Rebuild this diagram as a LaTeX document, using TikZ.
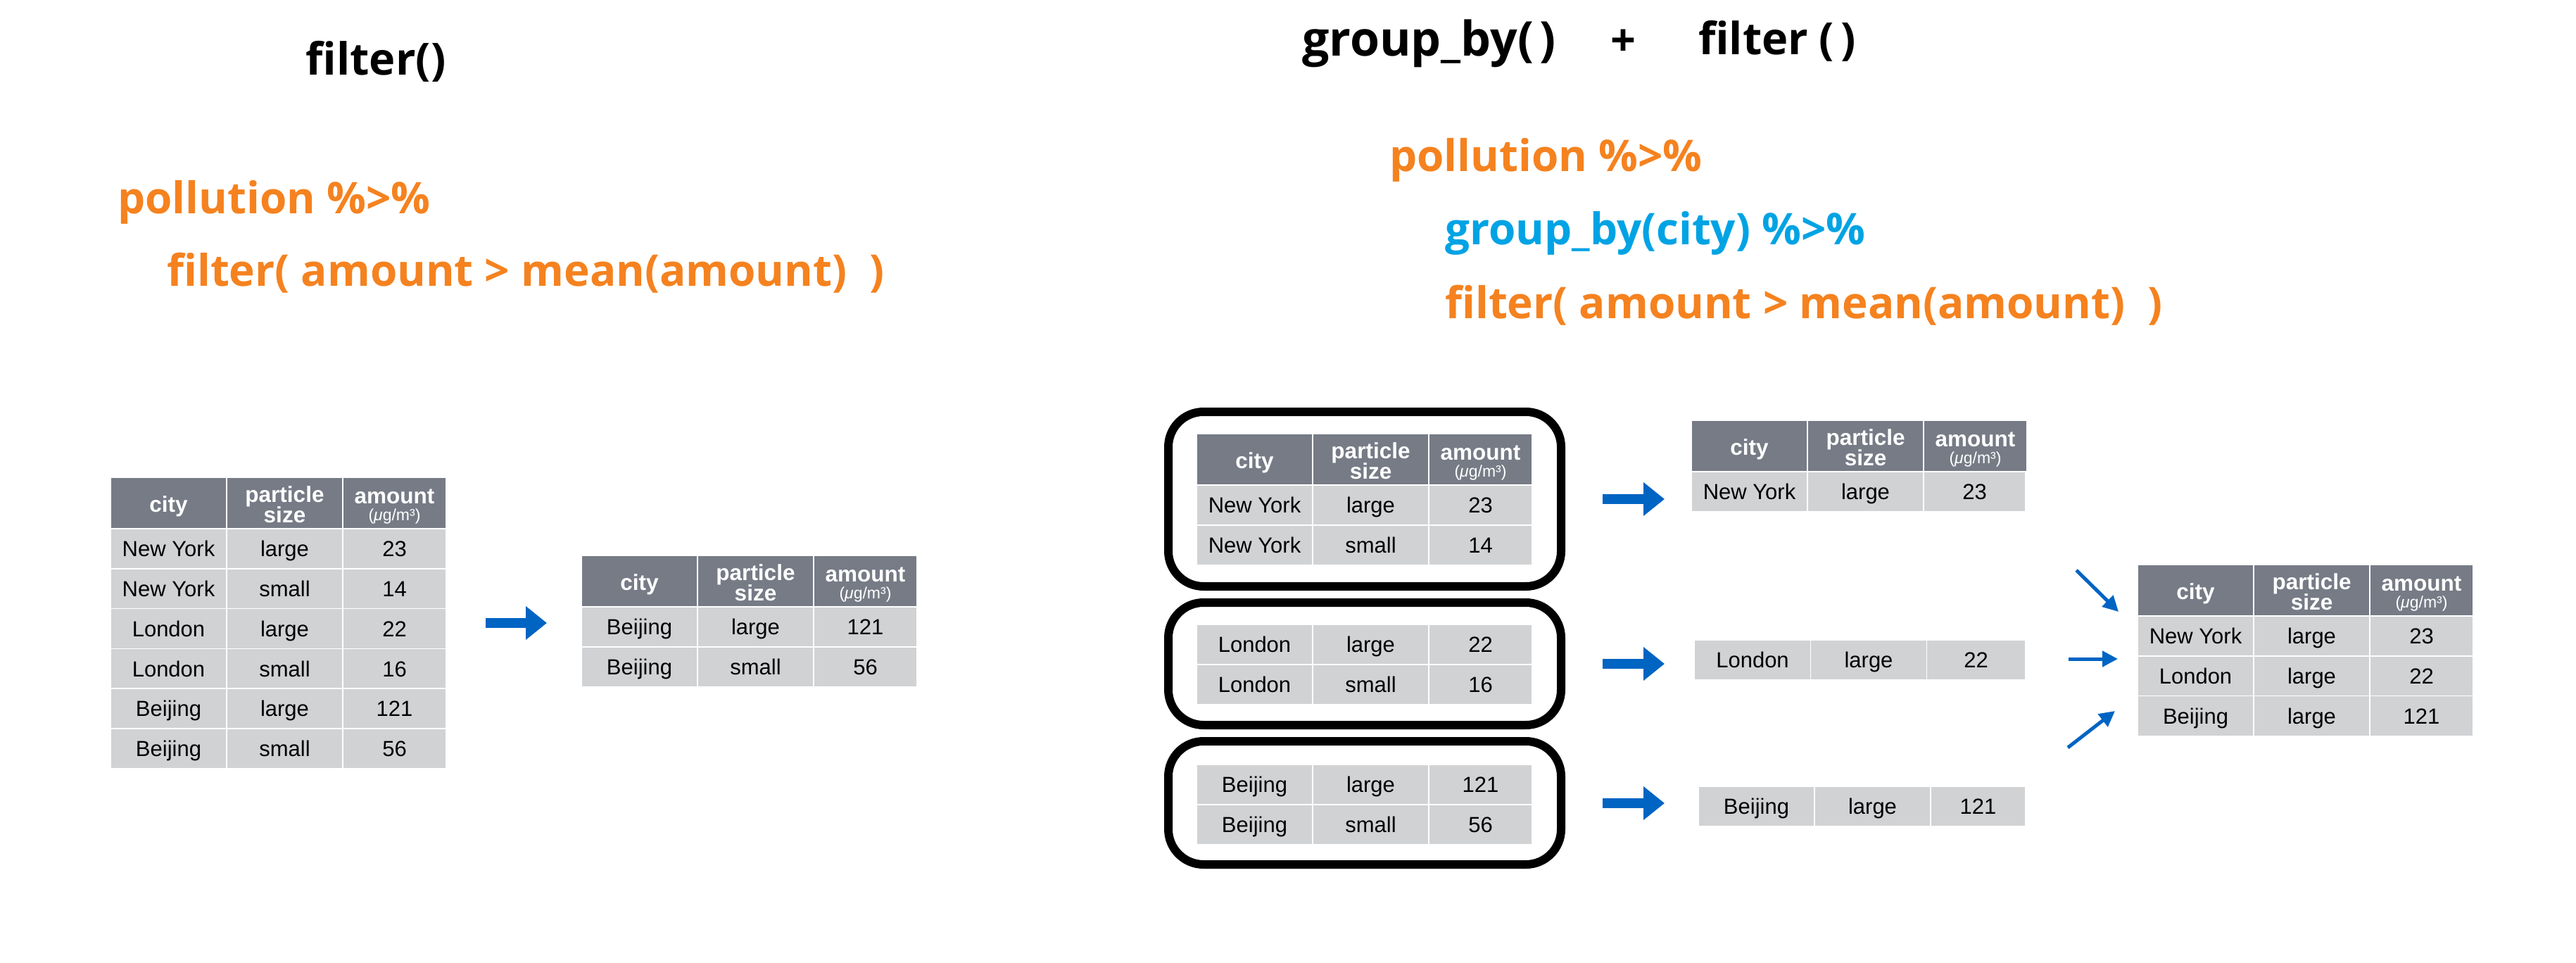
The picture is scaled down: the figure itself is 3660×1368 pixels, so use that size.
\documentclass[tikz,border=0pt]{standalone}
\usepackage{fontspec}
\setmainfont{Liberation Sans}
\newfontfamily\codefont{Open Sans}
\usetikzlibrary{arrows.meta}
\definecolor{orng}{HTML}{F5821F}
\definecolor{codeblue}{HTML}{00A3E4}
\definecolor{arrowblue}{HTML}{0064C3}
\definecolor{hdrgray}{HTML}{767B86}
\definecolor{rowgray}{HTML}{D1D2D4}
\tikzset{
  hcell/.style={fill=hdrgray, draw=white, line width=1.5pt, minimum height=73pt, inner sep=0pt, outer sep=0pt},
  bcell/.style={fill=rowgray, draw=white, line width=1.5pt, minimum height=56.8pt, inner sep=0pt, outer sep=0pt,
    font=\fontsize{31}{36}\selectfont, text height=22.5pt, text depth=0pt},
  htext/.style={text=white, font=\bfseries\fontsize{31.5}{36}\selectfont, inner sep=0pt, anchor=base},
  utext/.style={text=white, font=\fontsize{23}{26}\selectfont, inner sep=0pt, anchor=base},
  codetxt/.style={font=\codefont\bfseries\fontsize{62}{70}\selectfont, inner sep=0pt, anchor=base west},
  titletxt/.style={font=\codefont\bfseries\fontsize{63}{70}\selectfont, inner sep=0pt, text=black},
  bigarrow/.style={draw=arrowblue, line width=14pt, -{Triangle[length=30pt,width=46pt]}},
  smallarrow/.style={draw=arrowblue, line width=5pt, -{Triangle[length=22pt,width=22pt]}},
  groupbox/.style={draw=black, line width=12pt, rounded corners=50pt, minimum width=558pt, inner sep=0pt, outer sep=0pt},
}
\newcommand\mytabhead[1]{%
  \node[hcell, minimum width=165pt, anchor=north west] (#1h1) at (0,0) {};
  \node[hcell, minimum width=165pt, anchor=north west] (#1h2) at (165,0) {};
  \node[hcell, minimum width=147pt, anchor=north west] (#1h3) at (330,0) {};
  \node[htext] (#1t1) at (82.5,49) {city};
  \node[htext] (#1t2) at (247.5,35) {particle};
  \node[htext] (#1t3) at (247.5,64) {size};
  \node[htext] (#1t4) at (403.5,37) {amount};
  \node[utext] (#1t5) at (403.5,61) {(\textit{μ}g/m³)};
}
\newcommand\mytabrow[6]{%
  \node[bcell, minimum width=165pt, anchor=north west] (#1a) at (0,#2) {#3};
  \node[bcell, minimum width=165pt, anchor=north west] (#1b) at (165,#2) {#4};
  \node[bcell, minimum width=#6pt, anchor=north west] (#1c) at (330,#2) {#5};
}
\begin{document}
\begin{tikzpicture}[x=1pt,y=-1pt]
\path[use as bounding box, fill=white] (0,0) rectangle (3660,1368);

% ---- titles and code ----
\node[titletxt, anchor=base] (ttl1) at (534,106) {filter()};
\node[titletxt, anchor=base west, font=\codefont\bfseries\fontsize{68}{74}\selectfont] (ttl2) at (1850,79) {group\_by(\kern0.12em)};
\node[titletxt, anchor=base] (ttlplus) at (2306,79) {+};
\node[titletxt, anchor=base west] (ttl3) at (2413,77) {filter\kern0.25em(\kern0.15em)};

\node[codetxt, text=orng] (lc1) at (167,303) {pollution \%>\%};
\node[codetxt, text=orng] (lc2) at (237,406) {filter( amount > mean(amount)~~)};

\node[codetxt, text=orng] (rc1) at (1974,243) {pollution \%>\%};
\node[codetxt, text=codeblue] (rc2) at (2053,347) {group\_by(city) \%>\%};
\node[codetxt, text=orng] (rc3) at (2053,452) {filter( amount > mean(amount)~~)};

% ---- left full table ----
\begin{scope}[shift={(157,678)}]
  \mytabhead{L}
  \mytabrow{Lr1}{73}{New York}{large}{23}{147}
  \mytabrow{Lr2}{129.8}{New York}{small}{14}{147}
  \mytabrow{Lr3}{186.6}{London}{large}{22}{147}
  \mytabrow{Lr4}{243.4}{London}{small}{16}{147}
  \mytabrow{Lr5}{300.2}{Beijing}{large}{121}{147}
  \mytabrow{Lr6}{357}{Beijing}{small}{56}{147}
\end{scope}

% ---- left result ----
\begin{scope}[shift={(826,789)}]
  \mytabhead{R}
  \mytabrow{Rr1}{73}{Beijing}{large}{121}{147}
  \mytabrow{Rr2}{129.8}{Beijing}{small}{56}{147}
\end{scope}

\coordinate (la0) at (690,885);
\coordinate (la1) at (777,885);
\draw[bigarrow] (la0) -- (la1);

% ---- grouped tables ----
\node[groupbox, minimum height=248pt] (g1) at (1939,709) {};
\node[groupbox, minimum height=174pt] (g2) at (1939,943) {};
\node[groupbox, minimum height=175pt] (g3) at (1939,1140.5) {};

\begin{scope}[shift={(1700,616)}]
  \mytabhead{GA}
  \mytabrow{GAr1}{73}{New York}{large}{23}{147}
  \mytabrow{GAr2}{129.8}{New York}{small}{14}{147}
\end{scope}
\begin{scope}[shift={(1700,887)}]
  \mytabrow{GBr1}{0}{London}{large}{22}{147}
  \mytabrow{GBr2}{56.8}{London}{small}{16}{147}
\end{scope}
\begin{scope}[shift={(1700,1086)}]
  \mytabrow{GCr1}{0}{Beijing}{large}{121}{147}
  \mytabrow{GCr2}{56.8}{Beijing}{small}{56}{147}
\end{scope}

\coordinate (ma0) at (2277,709);   \coordinate (ma1) at (2365,709);
\coordinate (mb0) at (2277,943);   \coordinate (mb1) at (2365,943);
\coordinate (mc0) at (2277,1141);  \coordinate (mc1) at (2365,1141);
\draw[bigarrow] (ma0) -- (ma1);
\draw[bigarrow] (mb0) -- (mb1);
\draw[bigarrow] (mc0) -- (mc1);

% ---- filtered per group ----
\begin{scope}[shift={(2403,597)}]
  \mytabhead{FA}
  \mytabrow{FAr1}{73}{New York}{large}{23}{145}
\end{scope}
\begin{scope}[shift={(2407.5,909)}]
  \mytabrow{FBr1}{0}{London}{large}{22}{140}
\end{scope}
\begin{scope}[shift={(2413,1117)}]
  \mytabrow{FCr1}{0}{Beijing}{large}{121}{135}
\end{scope}

% ---- combined result ----
\begin{scope}[shift={(3037,802)}]
  \mytabhead{C}
  \mytabrow{Cr1}{73}{New York}{large}{23}{147}
  \mytabrow{Cr2}{129.8}{London}{large}{22}{147}
  \mytabrow{Cr3}{186.6}{Beijing}{large}{121}{147}
\end{scope}

\coordinate (sa0) at (2950,810);  \coordinate (sa1) at (3010,869);
\coordinate (sb0) at (2939,936);  \coordinate (sb1) at (3009,936);
\coordinate (sc0) at (2938,1062); \coordinate (sc1) at (3005,1010);
\draw[smallarrow] (sa0) -- (sa1);
\draw[smallarrow] (sb0) -- (sb1);
\draw[smallarrow] (sc0) -- (sc1);
\end{tikzpicture}
\end{document}
